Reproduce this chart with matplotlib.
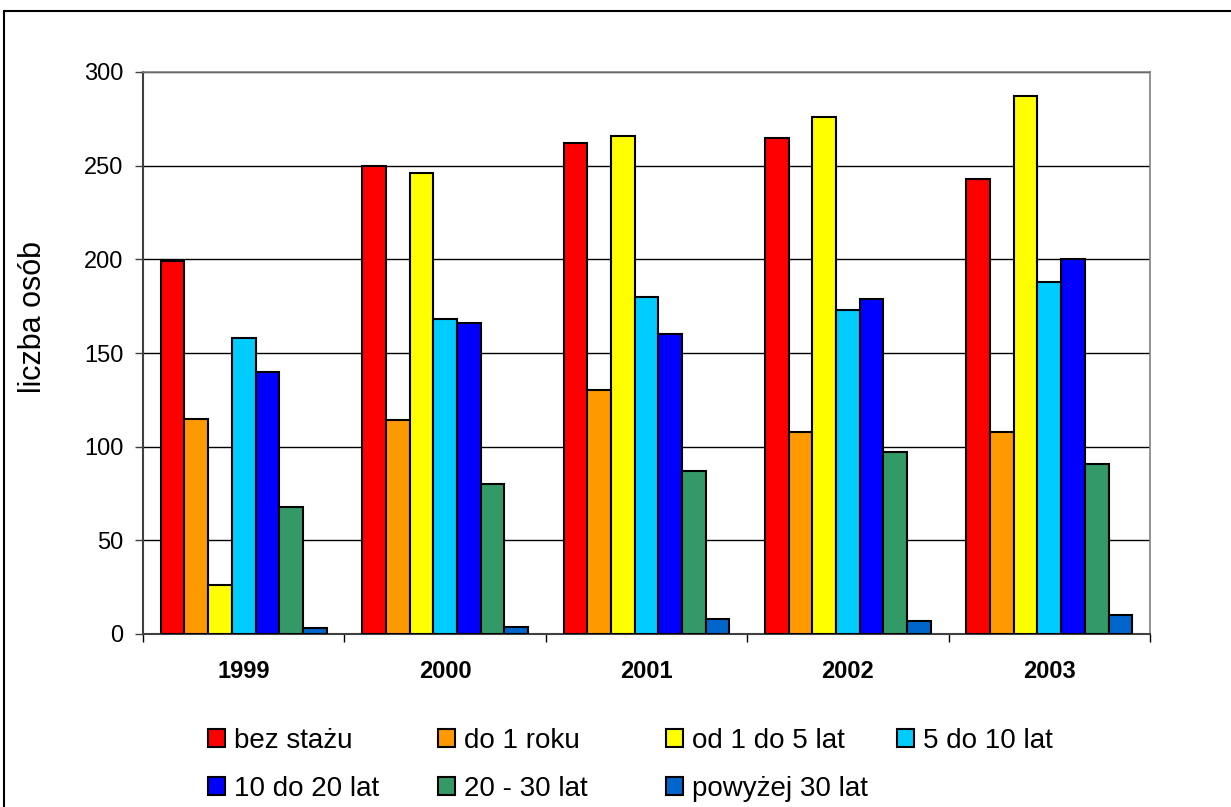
import numpy as np
import matplotlib.pyplot as plt
from matplotlib.patches import Rectangle

plt.rcParams['font.family'] = ['Liberation Sans', 'DejaVu Sans']

# dane
lata = ['1999', '2000', '2001', '2002', '2003']
serie = ['bez stażu', 'do 1 roku', 'od 1 do 5 lat', '5 do 10 lat',
         '10 do 20 lat', '20 - 30 lat', 'powyżej 30 lat']
bez_stazu   = [199, 250, 262, 265, 243]
do_1_roku   = [115, 114, 130, 108, 108]
od_1_do_5   = [26, 246, 266, 276, 287]
od_5_do_10  = [158, 168, 180, 173, 188]
od_10_do_20 = [140, 166, 160, 179, 200]
od_20_do_30 = [68, 80, 87, 97, 91]
powyzej_30  = [3, 4, 8, 7, 10]
wartosci = [bez_stazu, do_1_roku, od_1_do_5, od_5_do_10,
            od_10_do_20, od_20_do_30, powyzej_30]
kolory = ['#FF0000', '#FF9900', '#FFFF00', '#00CCFF',
          '#0000FF', '#339966', '#0066CC']

fig = plt.figure(figsize=(12.31, 8.07), dpi=100)
ax = fig.add_axes([143/1231, 1-634/807, 1007/1231, 562/807])

x = np.arange(len(lata))
w = 1/8.5
uchwyty = []
for j, (nazwa, v, c) in enumerate(zip(serie, wartosci, kolory)):
    b = ax.bar(x + (j-3)*w, v, w, color=c, edgecolor='black',
               linewidth=1.5, label=nazwa, zorder=3)
    uchwyty.append(b)

ax.set_xlim(-0.5, 4.5)
ax.set_ylim(0, 300)
ax.set_yticks(np.arange(0, 301, 50))
ax.yaxis.grid(True, color='black', linewidth=1, zorder=0)
ax.tick_params(axis='y', direction='out', length=6, width=1, pad=8,
               labelsize=17, color='#404040')

# lata jako minor ticki, kreski na granicach grup
ax.set_xticks(np.arange(-0.5, 4.6, 1))
ax.set_xticklabels([])
ax.set_xticks(x, minor=True)
ax.set_xticklabels(lata, minor=True, fontsize=17, fontweight='bold')
ax.tick_params(axis='x', which='major', direction='out', length=6,
               width=1, color='black')
ax.tick_params(axis='x', which='minor', length=0, pad=19)

for s in ['left', 'bottom']:
    ax.spines[s].set_color('#404040')
    ax.spines[s].set_linewidth(1.5)
for s in ['top', 'right']:
    ax.spines[s].set_color('#808080')
    ax.spines[s].set_linewidth(1.2)

ax.set_ylabel('liczba osób', fontsize=22)
ax.yaxis.label.set_va('center')
ax.yaxis.set_label_coords(-0.109, 0.564)

# legenda - cztery kolumny w stylu Excela
kol_x = [208, 438, 666, 897]
for k in range(4):
    idx = [k, k+4] if k+4 < 7 else [k]
    fig.legend([uchwyty[i] for i in idx], [serie[i] for i in idx],
               loc='upper left',
               bbox_to_anchor=(kol_x[k]/1231, 1-728/807),
               frameon=False, fontsize=20, handlelength=0.6,
               handleheight=0.6, handletextpad=0.35, labelspacing=0.78,
               borderpad=0, borderaxespad=0)

# ramka wykresu
fig.add_artist(Rectangle((4/1231, -0.1), 2, 1-11/807+0.1,
                         transform=fig.transFigure, fill=False,
                         edgecolor='black', linewidth=1.5))

fig.savefig('out.png', dpi=100)
